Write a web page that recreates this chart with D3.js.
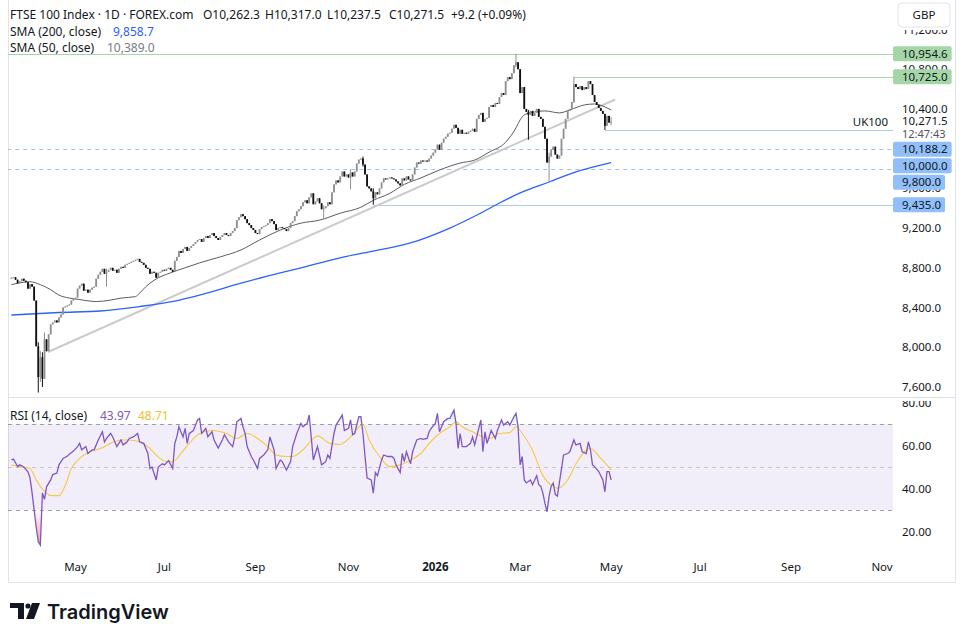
<!DOCTYPE html>
<html>
<head>
<meta charset="utf-8">
<script src="https://cdn.jsdelivr.net/npm/d3@7"></script>
<style>
  body { margin: 0; background: #fff; }
  svg text { font-family: "Noto Sans", "Open Sans", sans-serif; fill: #131722; }
</style>
</head>
<body>
<div id="chart"></div>
<script>
// daily closes, UK100 (FTSE 100 CFD), 19 Mar 2025 -> 1 May 2026
const closes = [
  8700, 8705, 8680, 8645, 8665, 8690, 8670, 8655, 8590, 8635,
  8610, 8470, 8010, 7700, 7900, 7680, 8080, 7960, 8130, 8230,
  8250, 8270, 8250, 8300, 8330, 8400, 8410, 8420, 8430, 8470,
  8490, 8500, 8590, 8620, 8640, 8570, 8580, 8550, 8580, 8600,
  8610, 8690, 8730, 8760, 8790, 8740, 8760, 8780, 8800, 8770,
  8780, 8750, 8790, 8810, 8800, 8830, 8840, 8850, 8860, 8870,
  8880, 8890, 8860, 8850, 8830, 8800, 8790, 8740, 8760, 8750,
  8700, 8750, 8760, 8780, 8770, 8790, 8800, 8780, 8760, 8870,
  8910, 8970, 8950, 8990, 9010, 8970, 9000, 9020, 9040, 9060,
  9080, 9090, 9060, 9100, 9120, 9100, 9130, 9150, 9120, 9100,
  9080, 9110, 9130, 9150, 9130, 9120, 9150, 9170, 9200, 9280,
  9310, 9340, 9320, 9290, 9250, 9230, 9200, 9180, 9150, 9140,
  9190, 9210, 9220, 9230, 9250, 9290, 9270, 9240, 9180, 9200,
  9210, 9200, 9190, 9170, 9200, 9250, 9270, 9320, 9370, 9390,
  9420, 9460, 9480, 9450, 9510, 9550, 9440, 9470, 9500, 9450,
  9390, 9400, 9420, 9460, 9440, 9560, 9640, 9680, 9660, 9720,
  9770, 9720, 9740, 9710, 9760, 9720, 9770, 9850, 9890, 9900,
  9840, 9740, 9620, 9600, 9570, 9500, 9560, 9540, 9600, 9660,
  9700, 9690, 9700, 9710, 9700, 9690, 9670, 9650, 9630, 9700,
  9680, 9720, 9690, 9680, 9740, 9810, 9860, 9850, 9880, 9870,
  9880, 9870, 9900, 9930, 9960, 9990, 10040, 9990, 10060, 10100,
  10120, 10150, 10160, 10200, 10240, 10210, 10150, 10190, 10150, 10160,
  10150, 10170, 10180, 10200, 10170, 10300, 10340, 10360, 10270, 10300,
  10310, 10420, 10440, 10420, 10460, 10450, 10520, 10560, 10540, 10680,
  10720, 10700, 10760, 10840, 10870, 10800, 10560, 10620, 10400, 10370,
  10340, 10380, 10330, 10360, 10400, 10320, 10300, 10220, 10100, 9860,
  9920, 9990, 10020, 9940, 9900, 9930, 10100, 10200, 10300, 10380,
  10400, 10470, 10650, 10620, 10600, 10630, 10590, 10620, 10600, 10680,
  10650, 10540, 10470, 10440, 10410, 10380, 10350, 10230, 10330, 10262.3,
  10271.5
];
const firstOpen = 8690;
// [bar, high, low] for bars with visible wicks
const wicks = [
  [13, 8050, 7544], [14, 7960, 7650], [15, 7950, 7600], [16, 8150, 7700],
  [46, 8790, 8610], [151, 9430, 9290], [164, 9790, 9590], [170, 9920, 9820],
  [175, 9600, 9435], [244, 10954.6, 10820], [250, 10390, 10090],
  [260, 9960, 9664], [272, 10725, 10460], [287, 10350, 10188.2],
  [290, 10317, 10237.5]
];
const startDate = new Date(2025, 2, 19);
const holidays = ["2025-12-25", "2026-01-01"];

// moving averages, [bar, value]
const sma50Pts = [
  [0, 8630], [9, 8660], [14, 8630], [19, 8580], [23, 8525], [28, 8495], [33, 8480],
  [38, 8465], [41, 8460], [48, 8475], [53, 8495], [60, 8510], [62, 8545], [65, 8610],
  [69, 8675], [77, 8750], [84, 8800], [91, 8850], [101, 8910], [111, 8980], [120, 9080],
  [130, 9180], [140, 9250], [149, 9280], [159, 9350], [169, 9410], [175, 9480],
  [183, 9550], [190, 9640], [198, 9705], [207, 9785], [217, 9855], [224, 9885],
  [231, 9965], [239, 10065], [244, 10210], [246, 10290], [248, 10340], [253, 10370],
  [258, 10380], [265, 10360], [270, 10390], [277, 10440], [282, 10450], [287, 10420],
  [290, 10389.0]
];
const sma200Pts = [
  [0, 8325], [23, 8350], [43, 8365], [62, 8410], [79, 8465], [91, 8525], [111, 8645],
  [130, 8750], [140, 8800], [159, 8900], [173, 8960], [193, 9050], [212, 9200],
  [227, 9352], [236, 9453], [246, 9554], [260, 9664], [273, 9765], [290, 9858.7]
];
const trendPts = [[17.7, 7952], [292, 10495]];

// horizontal levels
const resistance = [10954.6, 10725.0];
const resistanceFrom = [-2, 272];
const support = [10188.2, 10000.0, 9800.0, 9435.0];
const supportFrom = [287, -2, -2, 175];
const supportDashed = [false, true, true, false];

// RSI (14) and its MA, [bar, value]
const rsiPts = [
  [0,53.3],[1,53.7],[3,50.2],[4,51],[6,50],[8,47.8],[9,45],[10,38],[12,22],[13,15.3],
  [14,13.7],[15,38],[16,35],[17,40.8],[19,44],[20,46.5],[22,47.2],[23,51],[25,54],[27,55],
  [28,56],[30,57.4],[32,59.5],[33,61],[34,58],[36,59.5],[37,56.3],[39,58],[40,58],[42,62.6],
  [44,66.4],[45,61.7],[46,63.3],[48,65.6],[49,64],[51,59.5],[53,62.6],[54,60.3],[56,61.7],
  [57,63.3],[59,64],[61,65.6],[62,61.7],[64,61],[66,56.3],[67,49.3],[68,50],[70,44],[71,50],
  [73,51.5],[74,51],[76,53],[78,49.3],[79,61],[80,64],[81,68.7],[83,64],[84,68],[85,61],
  [86,65.6],[88,67],[90,71.9],[91,72.6],[92,65.6],[94,68],[95,64],[97,66.4],[98,62.6],
  [100,58.8],[102,62.6],[103,65],[105,61.7],[107,59.5],[108,64],[109,71],[111,72.6],
  [112,68.7],[113,65.6],[114,59.5],[116,54.9],[117,53.3],[119,49.3],[120,54],[122,55.6],
  [124,58],[125,64],[127,58],[128,49.3],[130,53.3],[131,52.5],[133,48.6],[135,52.5],
  [136,59.5],[138,65.6],[140,70.3],[141,68.7],[143,70.3],[144,74.2],[146,53.3],[148,59.5],
  [150,51],[152,52.5],[153,55.6],[154,54],[156,65.6],[157,69.5],[159,72.6],[160,74.2],
  [161,67],[163,68],[164,71.9],[165,65],[166,65.6],[168,73.4],[169,73.4],[170,65.6],
  [171,54.9],[172,44.9],[174,44],[175,37.9],[176,47.4],[177,46],[179,53.3],[180,55.6],
  [182,54.9],[184,54.9],[185,54],[186,51],[188,47.4],[189,56.3],[190,52.5],[191,57.1],
  [193,51.5],[194,57.1],[196,62.6],[198,63.3],[199,62.9],[201,63.3],[202,66.4],[203,68],
  [205,70.3],[206,75],[207,66.4],[209,71.1],[211,72.6],[212,72.6],[214,76.5],[215,70.3],
  [216,58.7],[217,65.6],[218,59.5],[220,59.5],[222,61],[223,64],[224,60.3],[225,64],
  [226,68],[227,71.9],[228,57.1],[229,66.4],[230,61],[232,67],[234,63.3],[235,67],
  [237,71.9],[238,69.5],[240,71.1],[241,69.5],[243,73.4],[244,75],[245,68.7],[246,51],
  [247,54.9],[248,44],[249,42.6],[251,44],[252,41.8],[254,46],[255,41.8],[256,41],
  [257,37.9],[258,33.1],[259,29.2],[260,36.5],[261,41],[262,42.6],[263,37.2],[264,36.5],
  [266,49.3],[267,55.6],[269,56.3],[270,57.1],[272,62.6],[273,60.3],[275,61],[276,57.1],
  [278,56.3],[279,61.7],[280,58],[281,51],[282,50.2],[284,47.9],[286,44],[287,38.5],
  [288,47.9],[289,47.9],[290,43.97]
];
const rsiMaPts = [
  [0,51],[4,50.2],[9,49.3],[12,44],[15,39.8],[19,36.7],[23,36.7],[26,41.4],[29,49.3],
  [33,54],[38,57.1],[43,58.6],[48,61],[53,62.6],[57,62.6],[62,61.7],[66,59.5],[70,55.6],
  [75,52.5],[78,52.5],[82,56.3],[86,61],[91,65.6],[97,67],[104,65.6],[109,63.3],[114,65.6],
  [119,63.3],[124,59.5],[128,55.6],[133,54.9],[136,54.9],[141,58],[146,63.3],[148,64.5],
  [154,61],[159,60.5],[164,64],[170,69.8],[173,62.6],[178,54.9],[183,50.2],[188,51],
  [193,53.3],[198,56.3],[202,61],[207,65.6],[212,68.7],[215,71],[218,68.7],[223,66.4],
  [228,64],[231,63.3],[236,65.6],[241,66],[244,68.7],[247,65.6],[252,57.8],[257,46],
  [262,41],[264,40.2],[269,44],[273,51.5],[278,57.8],[280,58.6],[285,54],[290,48.71]
];
const priceTicks = [7600, 8000, 8400, 8800, 9200, 9600, 10000, 10400, 10800, 11200];
const rsiTicks = [20, 40, 60, 80];
const rsiBands = [30, 50, 70];

// layout
const W = 965, H = 642;
const plotL = 8, plotR = 893, axisR = 955;
const priceTop = 0, priceBottom = 397, rsiTop = 398, rsiBottom = 555, timeBottom = 582;

const svg = d3.select("#chart").append("svg").attr("width", W).attr("height", H);

// bar dates (weekdays, a few holidays skipped), run on into the empty future
const fmtDay = d3.timeFormat("%Y-%m-%d");
const barDates = [];
for (let d = new Date(startDate); barDates.length < closes.length + 140; d.setDate(d.getDate() + 1)) {
  if (d.getDay() !== 0 && d.getDay() !== 6 && !holidays.includes(fmtDay(d))) barDates.push(new Date(d));
}

// scales
const x = d3.scaleLinear().domain([-1.644, 426.3]).range([plotL, plotR]);
const y = d3.scaleLinear().domain([7499, 11497]).range([priceBottom, priceTop]);
const yR = d3.scaleLinear().domain([9.1, 82.1]).range([rsiBottom, rsiTop]);

const defs = svg.append("defs");
defs.append("clipPath").attr("id", "clipPrice").append("rect")
  .attr("x", plotL).attr("y", priceTop).attr("width", plotR - plotL).attr("height", priceBottom - priceTop);
defs.append("clipPath").attr("id", "clipRsi").append("rect")
  .attr("x", plotL).attr("y", rsiTop).attr("width", plotR - plotL).attr("height", rsiBottom - rsiTop);
defs.append("clipPath").attr("id", "clipOver").append("rect")
  .attr("x", plotL).attr("y", rsiTop).attr("width", plotR - plotL).attr("height", yR(70) - rsiTop);
defs.append("clipPath").attr("id", "clipUnder").append("rect")
  .attr("x", plotL).attr("y", yR(30)).attr("width", plotR - plotL).attr("height", rsiBottom - yR(30));
defs.append("clipPath").attr("id", "clipRsiAxis").append("rect")
  .attr("x", plotR).attr("y", rsiTop + 3).attr("width", axisR - plotR).attr("height", rsiBottom - rsiTop - 3);

const gUnder = defs.append("linearGradient").attr("id", "gradUnder")
  .attr("gradientUnits", "userSpaceOnUse").attr("x1", 0).attr("x2", 0)
  .attr("y1", yR(30)).attr("y2", yR(12));
gUnder.append("stop").attr("offset", 0).attr("stop-color", "#f23645").attr("stop-opacity", 0.02);
gUnder.append("stop").attr("offset", 1).attr("stop-color", "#f23645").attr("stop-opacity", 0.55);
const gOver = defs.append("linearGradient").attr("id", "gradOver")
  .attr("gradientUnits", "userSpaceOnUse").attr("x1", 0).attr("x2", 0)
  .attr("y1", yR(70)).attr("y2", yR(80));
gOver.append("stop").attr("offset", 0).attr("stop-color", "#089981").attr("stop-opacity", 0.02);
gOver.append("stop").attr("offset", 1).attr("stop-color", "#089981").attr("stop-opacity", 0.45);

// frame
const frame = svg.append("g").attr("stroke", "#e0e3eb").attr("stroke-width", 1);
frame.append("line").attr("x1", plotL + 0.5).attr("x2", plotL + 0.5).attr("y1", 0).attr("y2", timeBottom);
frame.append("line").attr("x1", axisR + 0.5).attr("x2", axisR + 0.5).attr("y1", 0).attr("y2", timeBottom);
frame.append("line").attr("x1", plotL).attr("x2", axisR + 1).attr("y1", priceBottom + 0.5).attr("y2", priceBottom + 0.5);
frame.append("line").attr("x1", plotL).attr("x2", axisR + 1).attr("y1", timeBottom + 0.5).attr("y2", timeBottom + 0.5);

// ---------- price pane ----------
const price = svg.append("g").attr("clip-path", "url(#clipPrice)");

// horizontal levels
resistance.forEach((p, k) => {
  price.append("line")
    .attr("x1", x(resistanceFrom[k])).attr("x2", plotR)
    .attr("y1", Math.round(y(p)) + 0.5).attr("y2", Math.round(y(p)) + 0.5)
    .attr("stroke", "#a5d6a7").attr("stroke-width", 1.2);
});
support.forEach((p, k) => {
  price.append("line")
    .attr("x1", x(supportFrom[k])).attr("x2", plotR)
    .attr("y1", Math.round(y(p)) + 0.5).attr("y2", Math.round(y(p)) + 0.5)
    .attr("stroke", supportDashed[k] ? "#9ec3f7" : "#a9cbf7")
    .attr("stroke-width", 1.2)
    .attr("stroke-dasharray", supportDashed[k] ? "4,4" : null);
});
price.append("text")
  .attr("x", plotR - 5).attr("y", y(support[0]) - 4)
  .attr("text-anchor", "end").style("font-size", "11.5px")
  .text("UK100");

// trendline
price.append("line")
  .attr("x1", x(trendPts[0][0])).attr("y1", y(trendPts[0][1]))
  .attr("x2", x(trendPts[1][0])).attr("y2", y(trendPts[1][1]))
  .attr("stroke", "#cbcbcb").attr("stroke-width", 2);

// moving averages
const maLine = d3.line().x(d => x(d[0])).y(d => y(d[1])).curve(d3.curveMonotoneX);
price.append("path").datum(sma200Pts).attr("d", maLine)
  .attr("fill", "none").attr("stroke", "#2962ff").attr("stroke-width", 1.3);
price.append("path").datum(sma50Pts).attr("d", maLine)
  .attr("fill", "none").attr("stroke", "#5d5d5d").attr("stroke-width", 1);

// candles
const candles = closes.map((c, i) => {
  const o = i === 0 ? firstOpen : closes[i - 1];
  const w = wicks.find(v => v[0] === i);
  return { i, o, c, h: w ? w[1] : Math.max(o, c), l: w ? w[2] : Math.min(o, c) };
});
const upCol = "#8f8f8f", downCol = "#111111";
const cg = price.append("g");
cg.selectAll("line").data(candles).enter().append("line")
  .attr("x1", d => x(d.i)).attr("x2", d => x(d.i))
  .attr("y1", d => y(d.h)).attr("y2", d => y(d.l))
  .attr("stroke", d => d.c >= d.o ? upCol : downCol).attr("stroke-width", 1);
cg.selectAll("rect").data(candles).enter().append("rect")
  .attr("x", d => x(d.i) - 0.9).attr("width", 1.8)
  .attr("y", d => y(Math.max(d.o, d.c)))
  .attr("height", d => Math.max(1, Math.abs(y(d.o) - y(d.c))))
  .attr("fill", d => d.c >= d.o ? upCol : downCol);

// price axis ticks
const fmtP = d3.format(",.1f");
const pAxis = svg.append("g").style("font-size", "11.5px");
pAxis.selectAll("text").data(priceTicks).enter().append("text")
  .attr("x", 902).attr("y", d => y(d)).attr("dy", "0.35em").text(d => fmtP(d));

// price axis labels, stacked so they do not overlap
const last = closes[closes.length - 1];
const labels = [];
resistance.forEach(p => labels.push({ p, yy: y(p), h: 15, fill: "#a5d6a7" }));
support.forEach(p => labels.push({ p, yy: y(p), h: 15, fill: "#90bff9" }));
labels.push({ p: last, yy: y(last), h: 26, block: true });
labels.sort((a, b) => a.yy - b.yy);
let prevBottom = -100;
labels.forEach(l => {
  const top = Math.max(l.yy - 7.5, prevBottom + (l.block ? 0 : 1.5));
  l.top = top;
  prevBottom = top + l.h;
});
labels.forEach(l => {
  if (l.block) {
    pAxis.append("rect").attr("x", plotR + 1).attr("y", l.top).attr("width", 60).attr("height", l.h).attr("fill", "#fff");
    pAxis.append("text").attr("x", 902).attr("y", l.top + 7).attr("dy", "0.35em").text(fmtP(l.p));
    pAxis.append("text").attr("x", 902).attr("y", l.top + 20).attr("dy", "0.35em")
      .style("fill", "#50535e").style("font-size", "11px").text("12:47:43");
    return;
  }
  const g = pAxis.append("g");
  const r = g.append("rect").attr("x", plotR).attr("y", l.top).attr("height", l.h).attr("rx", 2).attr("fill", l.fill);
  const t = g.append("text").attr("x", 902).attr("y", l.top + l.h / 2).attr("dy", "0.35em").text(fmtP(l.p));
  r.attr("width", 9 + t.node().getComputedTextLength() + 4);
});

// currency box
svg.append("rect").attr("x", plotR + 1).attr("y", 0).attr("width", axisR - plotR - 1).attr("height", 30).attr("fill", "#fff");
svg.append("rect").attr("x", 898).attr("y", 3).attr("width", 52).attr("height", 24).attr("rx", 4)
  .attr("fill", "#fff").attr("stroke", "#e0e3eb");
svg.append("text").attr("x", 924).attr("y", 15).attr("dy", "0.35em").attr("text-anchor", "middle")
  .style("font-size", "11.5px").text("GBP");

// legend
const fs = "12px";
const head = svg.append("g").style("font-size", fs);
head.append("text").attr("x", 10).attr("y", 15).attr("dy", "0.35em").text("FTSE 100 Index · 1D · FOREX.com");
const ohlc = [["O10,262.3", 203], ["H10,317.0", 265], ["L10,237.5", 327], ["C10,271.5", 389], ["+9.2 (+0.09%)", 451]];
ohlc.forEach(o => head.append("text").attr("x", o[1]).attr("y", 15).attr("dy", "0.35em").text(o[0]));
head.append("text").attr("x", 10).attr("y", 32).attr("dy", "0.35em").text("SMA (200, close)");
head.append("text").attr("x", 113).attr("y", 32).attr("dy", "0.35em").style("fill", "#2962ff").text("9,858.7");
head.append("text").attr("x", 10).attr("y", 48).attr("dy", "0.35em").text("SMA (50, close)");
head.append("text").attr("x", 107).attr("y", 48).attr("dy", "0.35em").style("fill", "#787b86").text("10,389.0");

// ---------- RSI pane ----------
const rsi = svg.append("g").attr("clip-path", "url(#clipRsi)");
rsi.append("rect").attr("x", plotL).attr("width", plotR - plotL)
  .attr("y", yR(70)).attr("height", yR(30) - yR(70))
  .attr("fill", "#7e57c2").attr("fill-opacity", 0.1);
rsiBands.forEach(b => {
  rsi.append("line").attr("x1", plotL).attr("x2", plotR)
    .attr("y1", Math.round(yR(b)) + 0.5).attr("y2", Math.round(yR(b)) + 0.5)
    .attr("stroke", "#787b86").attr("stroke-opacity", b === 50 ? 0.35 : 0.7)
    .attr("stroke-dasharray", "4,4");
});
rsi.append("path").datum(rsiPts)
  .attr("d", d3.area().x(d => x(d[0])).y0(yR(70)).y1(d => yR(d[1])))
  .attr("clip-path", "url(#clipOver)").attr("fill", "url(#gradOver)");
rsi.append("path").datum(rsiPts)
  .attr("d", d3.area().x(d => x(d[0])).y0(yR(30)).y1(d => yR(d[1])))
  .attr("clip-path", "url(#clipUnder)").attr("fill", "url(#gradUnder)");
rsi.append("path").datum(rsiMaPts)
  .attr("d", d3.line().x(d => x(d[0])).y(d => yR(d[1])).curve(d3.curveMonotoneX))
  .attr("fill", "none").attr("stroke", "#f7c843").attr("stroke-width", 1.1);
rsi.append("path").datum(rsiPts)
  .attr("d", d3.line().x(d => x(d[0])).y(d => yR(d[1])))
  .attr("fill", "none").attr("stroke", "#7e57c2").attr("stroke-width", 1.3);

const rAxis = svg.append("g").attr("clip-path", "url(#clipRsiAxis)").style("font-size", "11.5px");
rAxis.selectAll("text").data(rsiTicks).enter().append("text")
  .attr("x", 902).attr("y", d => yR(d)).attr("dy", "0.35em").text(d => d3.format(".2f")(d));

const rHead = svg.append("g").style("font-size", fs);
rHead.append("text").attr("x", 10).attr("y", 416).attr("dy", "0.35em").text("RSI (14, close)");
rHead.append("text").attr("x", 100).attr("y", 416).attr("dy", "0.35em").style("fill", "#7e57c2").text("43.97");
rHead.append("text").attr("x", 138).attr("y", 416).attr("dy", "0.35em").style("fill", "#f2c12e").text("48.71");

// ---------- time axis ----------
const fmtMon = d3.timeFormat("%b");
const monthTicks = barDates
  .map((d, i) => ({ d, i }))
  .filter(o => o.i > 0 && o.d.getMonth() !== barDates[o.i - 1].getMonth() && o.d.getMonth() % 2 === 0)
  .filter(o => x(o.i) < plotR - 5);
svg.append("g").style("font-size", "11.5px")
  .selectAll("text").data(monthTicks).enter().append("text")
  .attr("x", o => x(o.i)).attr("y", 567).attr("dy", "0.35em").attr("text-anchor", "middle")
  .style("font-weight", o => o.d.getMonth() === 0 ? "bold" : "normal")
  .text(o => o.d.getMonth() === 0 ? o.d.getFullYear() : fmtMon(o.d));

// ---------- logo ----------
const logo = svg.append("g").attr("fill", "#131722");
logo.append("path").attr("d", "M10,603 H24 V619 H18 V608 H10 Z");
logo.append("circle").attr("cx", 28).attr("cy", 606).attr("r", 2.6);
logo.append("path").attr("d", "M32,603 H40 L34,619 H26 Z");
svg.append("text").attr("x", 47).attr("y", 619)
  .style("font-size", "20px").style("font-weight", "600").style("font-family", "Inter, 'Noto Sans', sans-serif")
  .text("TradingView");
</script>
</body>
</html>
